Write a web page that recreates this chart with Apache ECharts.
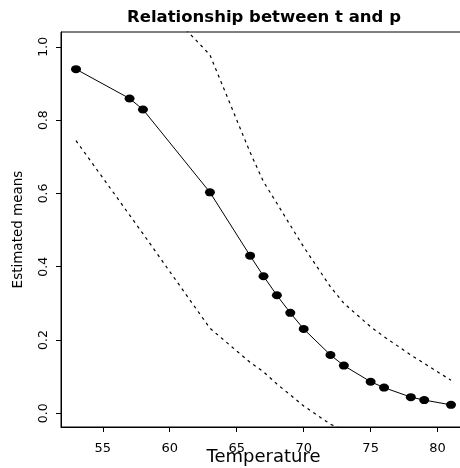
<!DOCTYPE html>
<html>
<head>
<meta charset="utf-8">
<script src="https://cdn.jsdelivr.net/npm/echarts@6/dist/echarts.min.js"></script>
<style>
html,body{margin:0;padding:0;background:#fff;overflow:hidden;}
#chart{width:460px;height:468px;}
</style>
</head>
<body>
<div id="chart"></div>
<script>
// Data
var temperature = [53, 57, 58, 63, 66, 67, 68, 69, 70, 72, 73, 75, 76, 78, 79, 81];
var estimatedMeans = [0.939, 0.859, 0.829, 0.603, 0.430, 0.374, 0.322, 0.274, 0.230, 0.159, 0.130, 0.086, 0.070, 0.044, 0.036, 0.023];
var upperBand = [1.13, 1.18, 1.17, 0.978, 0.712, 0.632, 0.573, 0.513, 0.454, 0.345, 0.300, 0.236, 0.209, 0.159, 0.136, 0.090];
var lowerBand = [0.744, 0.541, 0.490, 0.232, 0.139, 0.113, 0.080, 0.050, 0.020, -0.030, -0.045, -0.064, -0.065, -0.060, -0.058, -0.044];
var xTicks = [55, 60, 65, 70, 75, 80];
var yTicks = [0.0, 0.2, 0.4, 0.6, 0.8, 1.0];

function pairs(xs, ys) {
  return xs.map(function (x, i) { return [x, ys[i]]; });
}

var chart = echarts.init(document.getElementById('chart'), null, {renderer: 'canvas'});
var font = 'DejaVu Sans';
chart.setOption({
  animation: false,
  backgroundColor: '#ffffff',
  title: {
    text: 'Relationship between t and p',
    left: 264,
    textAlign: 'center',
    top: 9,
    padding: 0,
    textStyle: {fontFamily: font, fontWeight: 'bold', fontSize: 16.5, color: '#000'}
  },
  grid: {
    left: 61, top: 32, width: 405, bottom: 41,
    outerBoundsMode: 'none',
    containLabel: false,
    show: true, borderColor: '#000', borderWidth: 1, backgroundColor: 'transparent'
  },
  xAxis: {
    type: 'value',
    min: 51.88, max: 82.12,
    name: 'Temperature',
    nameLocation: 'middle',
    nameGap: 21,
    nameMoveOverlap: false,
    nameTextStyle: {fontFamily: font, fontSize: 18, color: '#000'},
    axisLine: {show: true, onZero: false, lineStyle: {color: '#000', width: 1}},
    axisTick: {show: true, length: 5, lineStyle: {color: '#000'}, customValues: xTicks},
    axisLabel: {show: true, margin: 15, fontFamily: font, fontSize: 13, color: '#000', customValues: xTicks},
    splitLine: {show: false}
  },
  yAxis: {
    type: 'value',
    min: -0.0375, max: 1.0405,
    name: 'Estimated means',
    nameLocation: 'middle',
    nameGap: 36,
    nameMoveOverlap: false,
    nameRotate: 90,
    nameTextStyle: {fontFamily: font, fontSize: 13.5, color: '#000'},
    axisLine: {show: true, onZero: false, lineStyle: {color: '#000', width: 1}},
    axisTick: {show: true, length: 5, lineStyle: {color: '#000'}, customValues: yTicks},
    axisLabel: {
      show: true, rotate: 90, margin: 11, fontFamily: font, fontSize: 12.5, color: '#000',
      customValues: yTicks,
      formatter: function (v) { return Number(v).toFixed(1); }
    },
    splitLine: {show: false}
  },
  series: [
    {
      name: 'upper', type: 'line', data: pairs(temperature, upperBand),
      showSymbol: false, symbol: 'none', clip: true,
      lineStyle: {color: '#000', width: 1.2, type: [3, 4]}, z: 2
    },
    {
      name: 'lower', type: 'line', data: pairs(temperature, lowerBand),
      showSymbol: false, symbol: 'none', clip: true,
      lineStyle: {color: '#000', width: 1.2, type: [3, 4]}, z: 2
    },
    {
      name: 'mean', type: 'line', data: pairs(temperature, estimatedMeans),
      symbol: 'circle', symbolSize: [10, 8], showSymbol: true, clip: true,
      itemStyle: {color: '#000'},
      lineStyle: {color: '#000', width: 1}, z: 3
    }
  ]
});
</script>
</body>
</html>
